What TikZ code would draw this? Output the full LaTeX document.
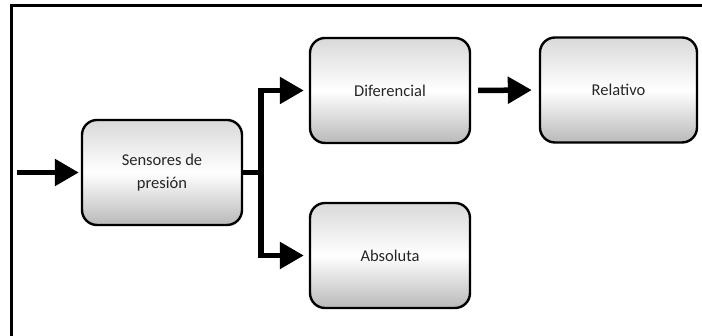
\documentclass[tikz,border=0pt]{standalone}
\usepackage{fontspec}
\setmainfont{Carlito}
\usetikzlibrary{arrows.meta}
\begin{document}
\begin{tikzpicture}[x=1pt,y=1pt,
  caja/.style={draw=black, line width=2.4pt, rounded corners=15pt,
    top color=gray!30, bottom color=gray!55, middle color=white,
    minimum width=160pt, minimum height=105pt, align=center,
    text=black!85, font=\fontsize{16.5}{23}\selectfont},
  flecha/.style={line width=5.5pt, -{Triangle[length=24pt,width=26pt]}}]
\useasboundingbox (0,0) rectangle (702,336);
% marco
\draw[line width=3pt] (11,0) -- (11,330) -- (702,330);
% bloques
\node[caja] (sens) at (162,163.5) {Sensores de\\presión};
\node[caja] (dif) at (390,245.5) {Diferencial};
\node[caja] (abs) at (390,80.5) {Absoluta};
\node[caja, minimum width=157pt] (rel) at (618.5,246) {Relativo};
\coordinate (ent) at (17,163.5);
\coordinate (rama) at (261,163.5);
% flechas
\draw[flecha, shorten >=2pt] (ent) -- (sens.west);
\draw[line width=5.5pt] (sens.east) -- (rama);
\draw[flecha, shorten >=5pt] (rama) |- (dif.west);
\draw[flecha, shorten >=5pt] (rama) |- (abs.west);
\draw[flecha, shorten <=7pt, shorten >=7pt] (dif.east) -- (rel.west);
\end{tikzpicture}
\end{document}
